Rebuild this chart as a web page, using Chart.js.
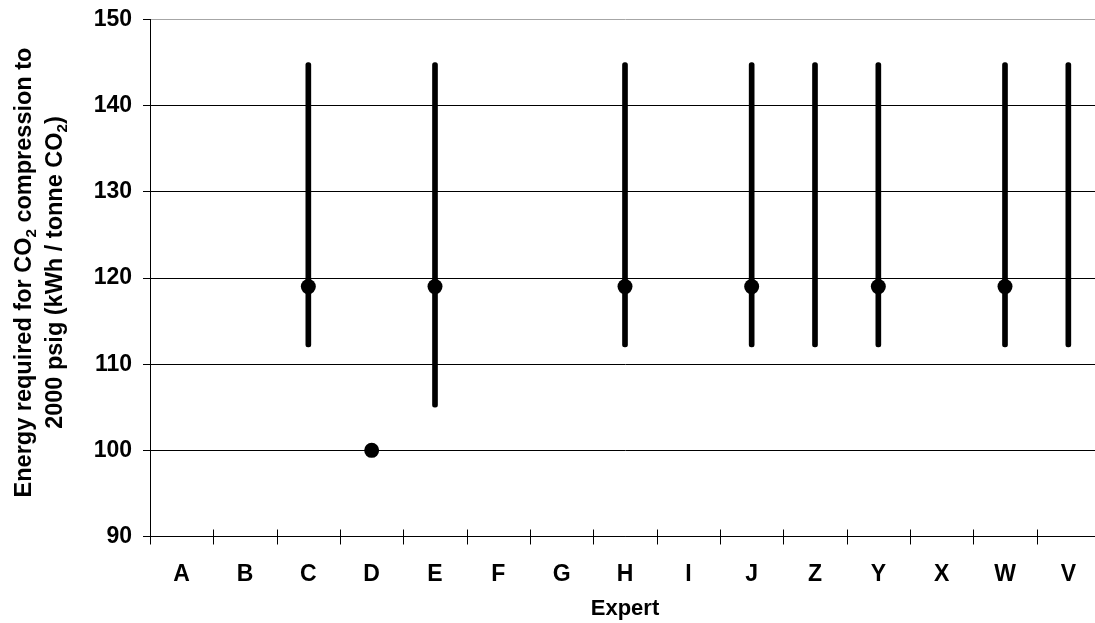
<!DOCTYPE html>
<html>
<head>
<meta charset="utf-8">
<script src="https://cdn.jsdelivr.net/npm/chart.js@4.4.0/dist/chart.umd.min.js"></script>
<style>
  html, body { margin: 0; padding: 0; background: #fff; overflow: hidden; }
  #wrap { width: 1108px; height: 623px; }
</style>
</head>
<body>
<div id="wrap"><canvas id="chart" width="1108" height="623"></canvas></div>
<script>
var experts = ['A', 'B', 'C', 'D', 'E', 'F', 'G', 'H', 'I', 'J', 'Z', 'Y', 'X', 'W', 'V'];
var lowValues = [null, null, 112, null, 105, null, null, 112, null, 112, 112, 112, null, 112, 112];
var highValues = [null, null, 145, null, 145, null, null, 145, null, 145, 145, 145, null, 145, 145];
var bestValues = [null, null, 119, 100, 119, null, null, 119, null, 119, null, 119, null, 119, null];
var yTicks = [90, 100, 110, 120, 130, 140, 150];

// y title has subscripts, so it is drawn in pieces: [text, isSubscript]
var yTitleLines = [
    [['Energy required for CO', false], ['2', true], [' compression to', false]],
    [['2000 psig (kWh / tonne CO', false], ['2', true], [')', false]]
];

var FONT = '"Liberation Sans", Arial, sans-serif';

var ranges = experts.map(function(e, i) {
    return lowValues[i] === null ? null : [lowValues[i], highValues[i]];
});

var axisExtras = {
    id: 'axisExtras',
    afterDraw: function(chart) {
        var ctx = chart.ctx;
        var xs = chart.scales.x;
        var area = chart.chartArea;
        ctx.save();

        // cross tick marks on the category axis
        ctx.strokeStyle = '#000';
        ctx.lineWidth = 1;
        for (var i = 0; i <= experts.length; i++) {
            var px = Math.round(xs.getPixelForValue(i - 0.5)) + 0.5;
            ctx.beginPath();
            ctx.moveTo(px, area.bottom - 7);
            ctx.lineTo(px, area.bottom + 8);
            ctx.stroke();
        }

        // rotated y title
        var size = 23.5;
        var baselines = [31, 62];
        var cy = (area.top + area.bottom) / 2 - 5.5;
        ctx.fillStyle = '#000';
        ctx.textBaseline = 'alphabetic';
        yTitleLines.forEach(function(parts, n) {
            var widths = parts.map(function(p) {
                ctx.font = 'bold ' + (p[1] ? size * 0.65 : size) + 'px ' + FONT;
                return ctx.measureText(p[0]).width;
            });
            var total = widths.reduce(function(a, b) { return a + b; }, 0);
            ctx.save();
            ctx.translate(baselines[n], cy);
            ctx.rotate(-Math.PI / 2);
            var x = -total / 2;
            parts.forEach(function(p, j) {
                ctx.font = 'bold ' + (p[1] ? size * 0.65 : size) + 'px ' + FONT;
                ctx.textAlign = 'left';
                ctx.fillText(p[0], x, p[1] ? 5 : 0);
                x += widths[j];
            });
            ctx.restore();
        });
        ctx.restore();
    }
};

var chart = new Chart(document.getElementById('chart').getContext('2d'), {
    type: 'bar',
    data: {
        labels: experts,
        datasets: [
            {
                type: 'line',
                data: bestValues,
                showLine: false,
                pointRadius: 7.5,
                pointHoverRadius: 7.5,
                pointBackgroundColor: '#000',
                pointBorderWidth: 0,
                order: 0
            },
            {
                data: ranges,
                backgroundColor: '#000',
                barThickness: 5,
                borderSkipped: false,
                borderRadius: 2.5,
                order: 1
            }
        ]
    },
    plugins: [axisExtras],
    options: {
        responsive: false,
        animation: false,
        events: [],
        layout: { padding: { top: 19.5, right: 8, left: 0, bottom: 0 } },
        plugins: { legend: { display: false }, tooltip: { enabled: false } },
        scales: {
            x: {
                offset: true,
                grid: { display: false, offset: true },
                border: { display: true, color: '#000', width: 1 },
                ticks: {
                    color: '#000',
                    padding: 16,
                    font: { family: FONT, size: 23, weight: 'bold' }
                },
                title: {
                    display: true,
                    text: 'Expert',
                    color: '#000',
                    padding: { top: 0, bottom: 1 },
                    font: { family: FONT, size: 22, weight: 'bold' }
                },
                afterFit: function(scale) {
                    scale.height = 86.5;
                    scale.paddingLeft = 0;
                    scale.paddingRight = 0;
                }
            },
            y: {
                min: 90,
                max: 150,
                afterBuildTicks: function(scale) {
                    scale.ticks = yTicks.map(function(v) { return { value: v }; });
                },
                grid: {
                    color: function(c) { return c.tick && c.tick.value === 150 ? '#a6a6a6' : '#000'; },
                    tickColor: '#000',
                    tickLength: 7,
                    lineWidth: 1
                },
                border: { display: true, color: '#000', width: 1 },
                ticks: {
                    color: '#000',
                    padding: 11,
                    font: { family: FONT, size: 23, weight: 'bold' }
                },
                afterFit: function(scale) {
                    scale.width = 150;
                    scale.paddingTop = 0;
                    scale.paddingBottom = 0;
                }
            }
        }
    }
});
</script>
</body>
</html>
